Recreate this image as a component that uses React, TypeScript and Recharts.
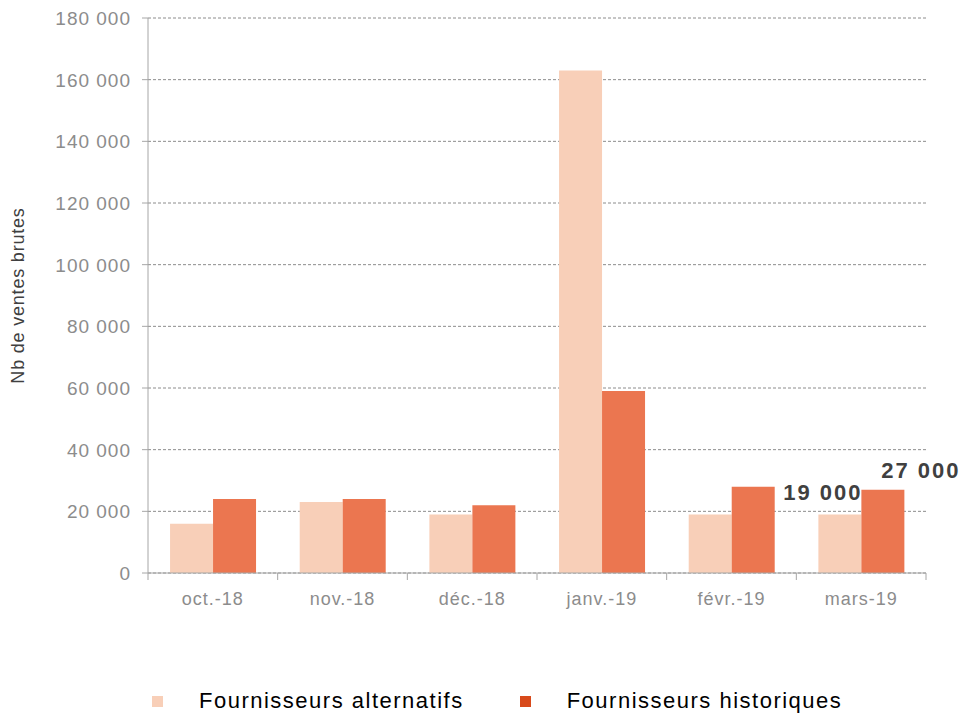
import React from "react";
import {
  Bar,
  BarChart,
  CartesianGrid,
  LabelList,
  Legend,
  XAxis,
  YAxis,
} from "recharts";

const months = ["oct.-18", "nov.-18", "déc.-18", "janv.-19", "févr.-19", "mars-19"];
const alternatifs = [16000, 23000, 19000, 163000, 19000, 19000];
const historiques = [24000, 24000, 22000, 59000, 28000, 27000];
const yTicks = [0, 20000, 40000, 60000, 80000, 100000, 120000, 140000, 160000, 180000];

const data = months.map((month, i) => ({
  month,
  alt: alternatifs[i],
  hist: historiques[i],
}));

const FONT = "'Liberation Sans', Arial, sans-serif";
const AXIS = "#a6a6a6";
const TICK_TEXT = "#8c8c8c";
const LIGHT = "#f8cfb8";
const DARK = "#eb7650";
const DARK_MARK = "#d84a1b";

const fmt = (v: number) =>
  String(v).replace(/\B(?=(\d{3})+(?!\d))/g, " ");

const XTick = (props: any) => {
  const { x, y, payload, index } = props;
  const half = payload?.offset ?? 65;
  return (
    <g>
      <line x1={x - half} x2={x - half} y1={y - 8} y2={y - 1} stroke={AXIS} />
      {index === months.length - 1 && (
        <line x1={x + half} x2={x + half} y1={y - 8} y2={y - 1} stroke={AXIS} />
      )}
      <text
        x={x}
        y={y + 24}
        textAnchor="middle"
        fill={TICK_TEXT}
        fontSize={18}
        letterSpacing={1}
        fontFamily={FONT}
      >
        {payload.value}
      </text>
    </g>
  );
};

const YTick = (props: any) => {
  const { x, y, payload } = props;
  return (
    <text
      x={x}
      y={y}
      dy={7}
      textAnchor="end"
      fill={TICK_TEXT}
      fontSize={19}
      letterSpacing={1}
      fontFamily={FONT}
    >
      {fmt(payload.value)}
    </text>
  );
};

const lastLabel = (dx: number, dy: number) => (props: any) => {
  const { x, y, width, value, index } = props;
  if (index !== months.length - 1) return null;
  return (
    <text
      x={x + width / 2 + dx}
      y={y + dy}
      textAnchor="middle"
      fill="#404040"
      fontSize={22}
      letterSpacing={2}
      fontWeight="bold"
      fontFamily={FONT}
    >
      {fmt(value)}
    </text>
  );
};

const LegendContent = () => (
  <div
    style={{
      display: "flex",
      alignItems: "center",
      fontFamily: FONT,
      fontSize: 22,
      letterSpacing: 1.5,
      color: "#000",
    }}
  >
    <span style={{ width: 11, height: 11, background: LIGHT, marginLeft: 152 }} />
    <span style={{ marginLeft: 36 }}>Fournisseurs alternatifs</span>
    <span style={{ width: 11, height: 11, background: DARK_MARK, marginLeft: 56 }} />
    <span style={{ marginLeft: 36 }}>Fournisseurs historiques</span>
  </div>
);

export default function App() {
  return (
    <div style={{ position: "absolute", left: 0, top: 0, width: 964, height: 720, background: "#fff" }}>
      <BarChart
        width={964}
        height={720}
        data={data}
        margin={{ top: 18, right: 38, left: 58, bottom: 81 }}
        barCategoryGap="17%"
        barGap={0}
      >
        <CartesianGrid
          vertical={false}
          stroke={TICK_TEXT}
          strokeDasharray="3 2"
        />
        <XAxis
          dataKey="month"
          stroke={AXIS}
          tickLine={false}
          tick={<XTick />}
          height={40}
          interval={0}
        />
        <YAxis
          domain={[0, 180000]}
          ticks={yTicks}
          stroke={AXIS}
          width={90}
          tickSize={6}
          tickMargin={11}
          tick={<YTick />}
          label={({ viewBox }: any) => (
            <text
              x={18}
              y={viewBox.y + viewBox.height / 2}
              transform={`rotate(-90, 18, ${viewBox.y + viewBox.height / 2})`}
              textAnchor="middle"
              dominantBaseline="central"
              fill="#404040"
              fontSize={18}
              letterSpacing={0.8}
              fontFamily={FONT}
            >
              Nb de ventes brutes
            </text>
          )}
        />
        <Legend
          verticalAlign="bottom"
          content={<LegendContent />}
          wrapperStyle={{ bottom: 6, left: 0, width: 964 }}
        />
        <Bar dataKey="alt" fill={LIGHT} isAnimationActive={false}>
          <LabelList dataKey="alt" content={lastLabel(-17, -14)} />
        </Bar>
        <Bar dataKey="hist" fill={DARK} isAnimationActive={false}>
          <LabelList dataKey="hist" content={lastLabel(38, -12)} />
        </Bar>
      </BarChart>
    </div>
  );
}
